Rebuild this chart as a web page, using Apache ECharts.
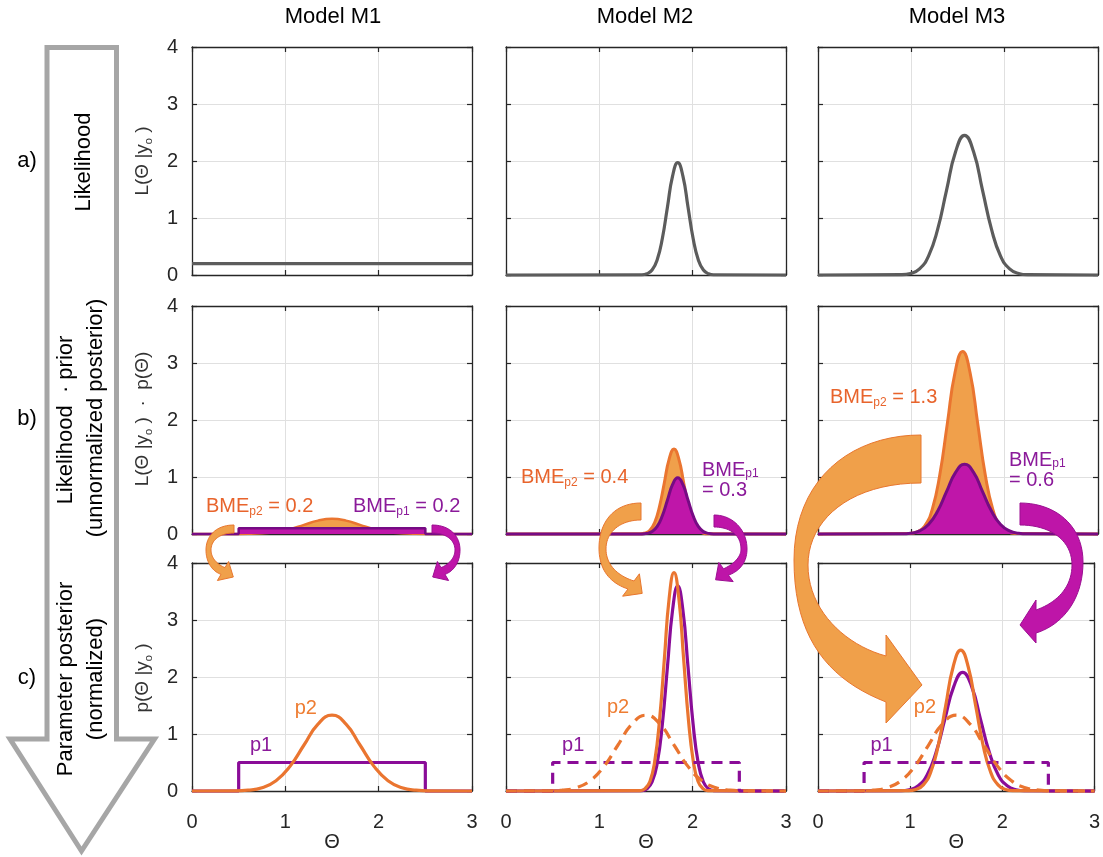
<!DOCTYPE html>
<html><head><meta charset="utf-8">
<script src="https://cdn.jsdelivr.net/npm/echarts@6/dist/echarts.min.js"></script>
<style>html,body{margin:0;padding:0;background:#fff}#c{width:1103px;height:857px}</style>
</head><body><div id="c"></div>
<script>
// ---------------- data ----------------
const modelTitles = ['Model M1', 'Model M2', 'Model M3'];
const xTicks = [0, 1, 2, 3];
const yTicks = [0, 1, 2, 3, 4];

// row a: likelihoods
const m1LikX = [0, 3];
const m1LikY = [0.2, 0.2];
const m2LikX = [0, 1.455, 1.51, 1.565, 1.62, 1.675, 1.73, 1.785, 1.84, 1.895, 1.95, 2.005, 2.06, 2.115, 2.17, 2.225, 3];
const m2LikY = [0, 0.004, 0.022, 0.087, 0.267, 0.640, 1.195, 1.739, 1.97, 1.739, 1.195, 0.640, 0.267, 0.087, 0.022, 0.004, 0];
const m3LikX = [0, 0.895, 0.991, 1.088, 1.184, 1.281, 1.377, 1.474, 1.57, 1.667, 1.763, 1.86, 1.956, 2.053, 2.149, 2.246, 3];
const m3LikY = [0, 0.005, 0.027, 0.108, 0.332, 0.796, 1.486, 2.162, 2.45, 2.162, 1.486, 0.796, 0.332, 0.108, 0.027, 0.005, 0];

// priors
const p1X = [0, 0.5, 0.5, 2.5, 2.5, 3];
const p1Y = [0, 0, 0.5, 0.5, 0, 0];
const p2X = [0, 0.45, 0.6, 0.75, 0.9, 1.05, 1.2, 1.35, 1.5, 1.65, 1.8, 1.95, 2.1, 2.25, 2.4, 2.55, 3];
const p2Y = [0, 0.003, 0.015, 0.058, 0.180, 0.432, 0.807, 1.174, 1.33, 1.174, 0.807, 0.432, 0.180, 0.058, 0.015, 0.003, 0];

// row b: likelihood * prior (unnormalized posterior)
const m1UnP1Y = [0, 0, 0.1, 0.1, 0, 0];
const m1UnP2Y = [0, 0.001, 0.003, 0.012, 0.036, 0.086, 0.161, 0.235, 0.266, 0.235, 0.161, 0.086, 0.036, 0.012, 0.003, 0.001, 0];
const m2UnP2X = [0, 1.438, 1.49, 1.542, 1.593, 1.645, 1.697, 1.748, 1.80, 1.852, 1.903, 1.955, 2.007, 2.058, 2.11, 2.162, 3];
const m2UnP2Y = [0, 0.003, 0.017, 0.065, 0.202, 0.484, 0.904, 1.315, 1.49, 1.315, 0.904, 0.484, 0.202, 0.065, 0.017, 0.003, 0];
const m2UnP1Y = [0, 0.002, 0.011, 0.043, 0.133, 0.320, 0.597, 0.869, 0.985, 0.869, 0.597, 0.320, 0.133, 0.043, 0.011, 0.002, 0];
const m3UnP2X = [0, 0.98, 1.062, 1.143, 1.224, 1.305, 1.386, 1.467, 1.549, 1.63, 1.711, 1.792, 1.873, 1.954, 2.035, 2.117, 3];
const m3UnP2Y = [0, 0.007, 0.036, 0.141, 0.433, 1.039, 1.941, 2.824, 3.2, 2.824, 1.941, 1.039, 0.433, 0.141, 0.036, 0.007, 0];
const m3UnP1Y = [0, 0.003, 0.014, 0.054, 0.166, 0.398, 0.743, 1.081, 1.225, 1.081, 0.743, 0.398, 0.166, 0.054, 0.014, 0.003, 0];

// row c: normalized posteriors
const m2PostP1Y = [0, 0.008, 0.040, 0.158, 0.487, 1.169, 2.183, 3.177, 3.6, 3.177, 2.183, 1.169, 0.487, 0.158, 0.040, 0.008, 0];
const m2PostP2Y = [0, 0.008, 0.043, 0.168, 0.518, 1.244, 2.323, 3.380, 3.83, 3.380, 2.323, 1.244, 0.518, 0.168, 0.043, 0.008, 0];
const m3PostP1Y = [0, 0.005, 0.023, 0.091, 0.281, 0.675, 1.262, 1.836, 2.08, 1.836, 1.262, 0.675, 0.281, 0.091, 0.023, 0.005, 0];
const m3PostP2Y = [0, 0.005, 0.027, 0.108, 0.334, 0.802, 1.498, 2.180, 2.47, 2.180, 1.498, 0.802, 0.334, 0.108, 0.027, 0.005, 0];

// BME annotations
const bmeP2 = ['0.2', '0.4', '1.3'];
const bmeP1 = ['0.2', '0.3', '0.6'];

// ---------------- layout / style ----------------
const FONT = '"Liberation Sans", Arial, Helvetica, sans-serif';
const C = {
  gray: '#5c5c5c', orLine: '#ea7530', orFill: '#f0a04b', puLine: '#760b84', puFill: '#bf16a9',
  p1Line: '#8a0c98', orText: '#e8642c', puText: '#8b1a9a', p2Text: '#ee7d32',
  grid: '#e0e0e0', axis: '#262626'
};
const colLeft = [192, 506, 818], rowTop = [47, 306, 563], W = 280, H = 228;

const chart = echarts.init(document.getElementById('c'));
const grid = [], xAxis = [], yAxis = [];
for (let r = 0; r < 3; r++) for (let c = 0; c < 3; c++) {
  const gi = r * 3 + c;
  grid.push({ left: colLeft[c], top: rowTop[r], width: W, height: H });
  const common = {
    type: 'value', gridIndex: gi,
    axisLine: { show: true, onZero: false, lineStyle: { color: C.axis, width: 1.3 } },
    axisTick: { show: true, inside: true, length: 5, lineStyle: { color: C.axis, width: 1.2 } },
    splitLine: { show: false }
  };
  const xc = { ...common, min: xTicks[0], max: xTicks[xTicks.length - 1], interval: 1 };
  const yc = { ...common, min: yTicks[0], max: yTicks[yTicks.length - 1], interval: 1 };
  xAxis.push({ ...xc, position: 'bottom',
    splitLine: { show: true, lineStyle: { color: C.grid, width: 1 } },
    axisLabel: { show: r === 2, fontSize: 20, color: C.axis, margin: 21, fontFamily: FONT },
    name: r === 2 ? 'Θ' : '', nameLocation: 'middle', nameGap: 41,
    nameTextStyle: { fontSize: 20, color: C.axis, fontFamily: FONT } });
  xAxis.push({ ...xc, position: 'top', axisLabel: { show: false } });
  yAxis.push({ ...yc, position: 'left',
    splitLine: { show: true, lineStyle: { color: C.grid, width: 1 } },
    axisLabel: { show: c === 0, fontSize: 20, color: C.axis, margin: 14, fontFamily: FONT } });
  yAxis.push({ ...yc, position: 'right', axisLabel: { show: false } });
}

function zip(xs, ys) { return xs.map((x, i) => [x, ys[i]]); }
function line(gi, xs, ys, o) {
  return {
    type: 'line', xAxisIndex: gi * 2, yAxisIndex: gi * 2, data: zip(xs, ys),
    symbol: 'none', showSymbol: false, smooth: o.smooth === undefined ? 0.5 : o.smooth,
    clip: false, silent: true, animation: false,
    lineStyle: { color: o.color, width: o.width || 3.2, type: o.dash ? [11, 7] : 'solid', cap: 'butt' },
    areaStyle: o.fill ? { color: o.fill, opacity: 1 } : undefined,
    z: o.z || 2
  };
}

const series = [
  // row a
  line(0, m1LikX, m1LikY, { color: C.gray, smooth: false }),
  line(1, m2LikX, m2LikY, { color: C.gray }),
  line(2, m3LikX, m3LikY, { color: C.gray }),
  // row b
  line(3, p2X, m1UnP2Y, { color: C.orLine, fill: C.orFill, width: 2.5, z: 2 }),
  line(3, p1X, m1UnP1Y, { color: C.puLine, fill: C.puFill, width: 2.5, smooth: false, z: 3 }),
  line(4, m2UnP2X, m2UnP2Y, { color: C.orLine, fill: C.orFill, width: 3, z: 2 }),
  line(4, m2LikX, m2UnP1Y, { color: C.puLine, fill: C.puFill, width: 3, z: 3 }),
  line(5, m3UnP2X, m3UnP2Y, { color: C.orLine, fill: C.orFill, width: 3, z: 2 }),
  line(5, m3LikX, m3UnP1Y, { color: C.puLine, fill: C.puFill, width: 3, z: 3 }),
  // row c
  line(6, p1X, p1Y, { color: C.p1Line, smooth: false, z: 2 }),
  line(6, p2X, p2Y, { color: C.orLine, z: 3 }),
  line(7, m2LikX, m2PostP1Y, { color: C.p1Line, z: 2 }),
  line(7, m2UnP2X, m2PostP2Y, { color: C.orLine, z: 3 }),
  line(7, p1X, p1Y, { color: C.p1Line, smooth: false, dash: true, z: 4 }),
  line(7, p2X, p2Y, { color: C.orLine, dash: true, z: 5 }),
  line(8, m3LikX, m3PostP1Y, { color: C.p1Line, z: 2 }),
  line(8, m3UnP2X, m3PostP2Y, { color: C.orLine, z: 3 }),
  line(8, p1X, p1Y, { color: C.p1Line, smooth: false, dash: true, z: 4 }),
  line(8, p2X, p2Y, { color: C.orLine, dash: true, z: 5 })
];

chart.setOption({ animation: false, backgroundColor: '#fff', grid, xAxis, yAxis, series });

// ---------------- decorations ----------------
const g = [];
function txt(x, y, text, size, color, opts) {
  opts = opts || {};
  return { type: 'text', x, y, rotation: opts.rot || 0, z: 100,
    style: { text, fontSize: size, fontFamily: FONT, fill: color, textAlign: opts.align || 'center',
      textVerticalAlign: 'middle', verticalAlign: 'middle', rich: opts.rich } };
}
// big grey arrow
g.push({ type: 'polygon', z: 50,
  shape: { points: [[47, 47.5], [116.5, 47.5], [116.5, 739], [154.5, 739], [81.5, 851], [10, 739], [47, 739]] },
  style: { fill: '#fff', stroke: '#a6a6a6', lineWidth: 5, lineJoin: 'miter' } });
const R = Math.PI / 2;
g.push(txt(84, 162, 'Likelihood', 22, '#000', { rot: R }));
g.push(txt(66, 420, 'Likelihood  · prior', 22, '#000', { rot: R }));
g.push(txt(96, 418, '(unnormalized posterior)', 22, '#000', { rot: R }));
g.push(txt(66, 679, 'Parameter posterior', 22, '#000', { rot: R }));
g.push(txt(96, 679, '(normalized)', 22, '#000', { rot: R }));
// row letters
g.push(txt(27, 161, 'a)', 22, '#000'));
g.push(txt(27, 419, 'b)', 22, '#000'));
g.push(txt(27, 678, 'c)', 22, '#000'));
// titles
[333, 645, 957].forEach((x, i) => g.push(txt(x, 17, modelTitles[i], 22, '#000')));
// y labels with subscript
const yl = { a: { fontSize: 19, fontFamily: FONT, fill: '#333', color: '#333', lineHeight: 22 },
             b: { fontSize: 11, fontFamily: FONT, fill: '#333', color: '#333', lineHeight: 8, verticalAlign: 'bottom' } };
g.push(txt(143, 161, '{a|L(Θ |y}{b|o}{a| )}', 19, '#333', { rot: R, rich: yl }));
g.push(txt(143, 419, '{a|L(Θ |y}{b|o}{a| )  ·  p(Θ)}', 19, '#333', { rot: R, rich: yl }));
g.push(txt(143, 678, '{a|p(Θ |y}{b|o}{a| )}', 19, '#333', { rot: R, rich: yl }));
// BME labels
function bmeRich(color, lh) {
  return { t: { fontSize: 20, fontFamily: FONT, fill: color, color: color, lineHeight: lh },
           s: { fontSize: 12, fontFamily: FONT, fill: color, color: color, lineHeight: 9, verticalAlign: 'bottom' } };
}
g.push(txt(206, 506, '{t|BME}{s|p2}{t| = ' + bmeP2[0] + '}', 20, C.orText, { align: 'left', rich: bmeRich(C.orText, 24) }));
g.push(txt(353, 506, '{t|BME}{s|p1}{t| = ' + bmeP1[0] + '}', 20, C.puText, { align: 'left', rich: bmeRich(C.puText, 24) }));
g.push(txt(521, 477, '{t|BME}{s|p2}{t| = ' + bmeP2[1] + '}', 20, C.orText, { align: 'left', rich: bmeRich(C.orText, 24) }));
g.push(txt(702, 480, '{t|BME}{s|p1}\n{t|= ' + bmeP1[1] + '}', 20, C.puText, { align: 'left', rich: bmeRich(C.puText, 20) }));
g.push(txt(830, 397, '{t|BME}{s|p2}{t| = ' + bmeP2[2] + '}', 20, C.orText, { align: 'left', rich: bmeRich(C.orText, 24) }));
g.push(txt(1009, 470, '{t|BME}{s|p1}\n{t|= ' + bmeP1[2] + '}', 20, C.puText, { align: 'left', rich: bmeRich(C.puText, 20) }));

// p1 / p2 labels placed in data coordinates
const pLabelAt = [
  { gi: 6, p1: [0.74, 0.79], p2: [1.22, 1.45] },
  { gi: 7, p1: [0.72, 0.79], p2: [1.2, 1.47] },
  { gi: 8, p1: [0.69, 0.79], p2: [1.16, 1.47] }
];
pLabelAt.forEach(l => {
  const a = chart.convertToPixel({ xAxisIndex: l.gi * 2, yAxisIndex: l.gi * 2 }, l.p1);
  const b = chart.convertToPixel({ xAxisIndex: l.gi * 2, yAxisIndex: l.gi * 2 }, l.p2);
  g.push(txt(a[0], a[1], 'p1', 20, C.puText));
  g.push(txt(b[0], b[1], 'p2', 20, C.p2Text));
});

// curved arrows (decorative shapes, pixel space)
function shapePts(start, segs) {
  const pts = [start]; let cur = start;
  segs.forEach(s => {
    if (s.length === 1) { pts.push(s[0]); cur = s[0]; return; }
    const [c1, c2, p] = s;
    for (let i = 1; i <= 20; i++) {
      const t = i / 20, u = 1 - t;
      pts.push([u*u*u*cur[0] + 3*u*u*t*c1[0] + 3*u*t*t*c2[0] + t*t*t*p[0],
                u*u*u*cur[1] + 3*u*u*t*c1[1] + 3*u*t*t*c2[1] + t*t*t*p[1]]);
    }
    cur = p;
  });
  return pts;
}
function arrow(pts, fill, stroke) {
  return { type: 'polygon', z: 120, shape: { points: pts }, style: { fill, stroke, lineWidth: 1 } };
}
const OF = '#f0a04a', OS = '#e8762e', PF = '#be15a8', PS = '#9c0f92';
const m1Orange = shapePts([234, 525], [
  [[216, 525], [206, 536], [206, 550]],
  [[206, 562], [212, 571], [221, 574.4]],
  [[217.4, 580.5]], [[233.3, 577]], [[228.6, 561.5]], [[225, 567.6]],
  [[216, 564], [211, 557], [211, 550]],
  [[211, 540], [220, 533], [234, 533]]
]);
g.push(arrow(m1Orange, OF, OS));
g.push(arrow(m1Orange.map(p => [666 - p[0], p[1]]), PF, PS));
g.push(arrow(shapePts([641, 503], [
  [[614, 503], [599, 522], [599, 548]],
  [[599, 570], [610, 583], [628, 589]],
  [[622.6, 596.2]], [[642.2, 593.4]], [[639.4, 573.8]], [[634, 581]],
  [[618, 576], [606, 565], [606, 549]],
  [[606, 532], [620, 520], [641, 520]]
]), OF, OS));
g.push(arrow(shapePts([714, 515], [
  [[733, 515], [747, 530], [747, 549]],
  [[747, 562], [740, 571], [728.4, 575.2]],
  [[733.2, 581.6]], [[715.6, 579.8]], [[718.8, 562.4]], [[723.6, 568.8]],
  [[734, 564], [741, 557], [741, 549]],
  [[741, 535], [730, 527], [714, 527]]
]), PF, PS));
g.push(arrow(shapePts([921, 435], [
  [[850, 435], [794, 480], [794, 560]],
  [[794, 640], [830, 680], [886, 702]],
  [[886, 723]], [[922, 685]], [[886, 635]], [[886, 656]],
  [[845, 645], [808, 610], [808, 565]],
  [[808, 520], [850, 483], [921, 483]]
]), OF, OS));
g.push(arrow(shapePts([1020, 503], [
  [[1055, 503], [1083, 525], [1083, 562]],
  [[1083, 600], [1062, 625], [1036, 633]],
  [[1036, 643]], [[1020, 625]], [[1036, 600]], [[1036, 610]],
  [[1056, 603], [1072, 588], [1072, 565]],
  [[1072, 540], [1050, 525], [1020, 525]]
]), PF, PS));

chart.setOption({ graphic: g });
</script></body></html>
